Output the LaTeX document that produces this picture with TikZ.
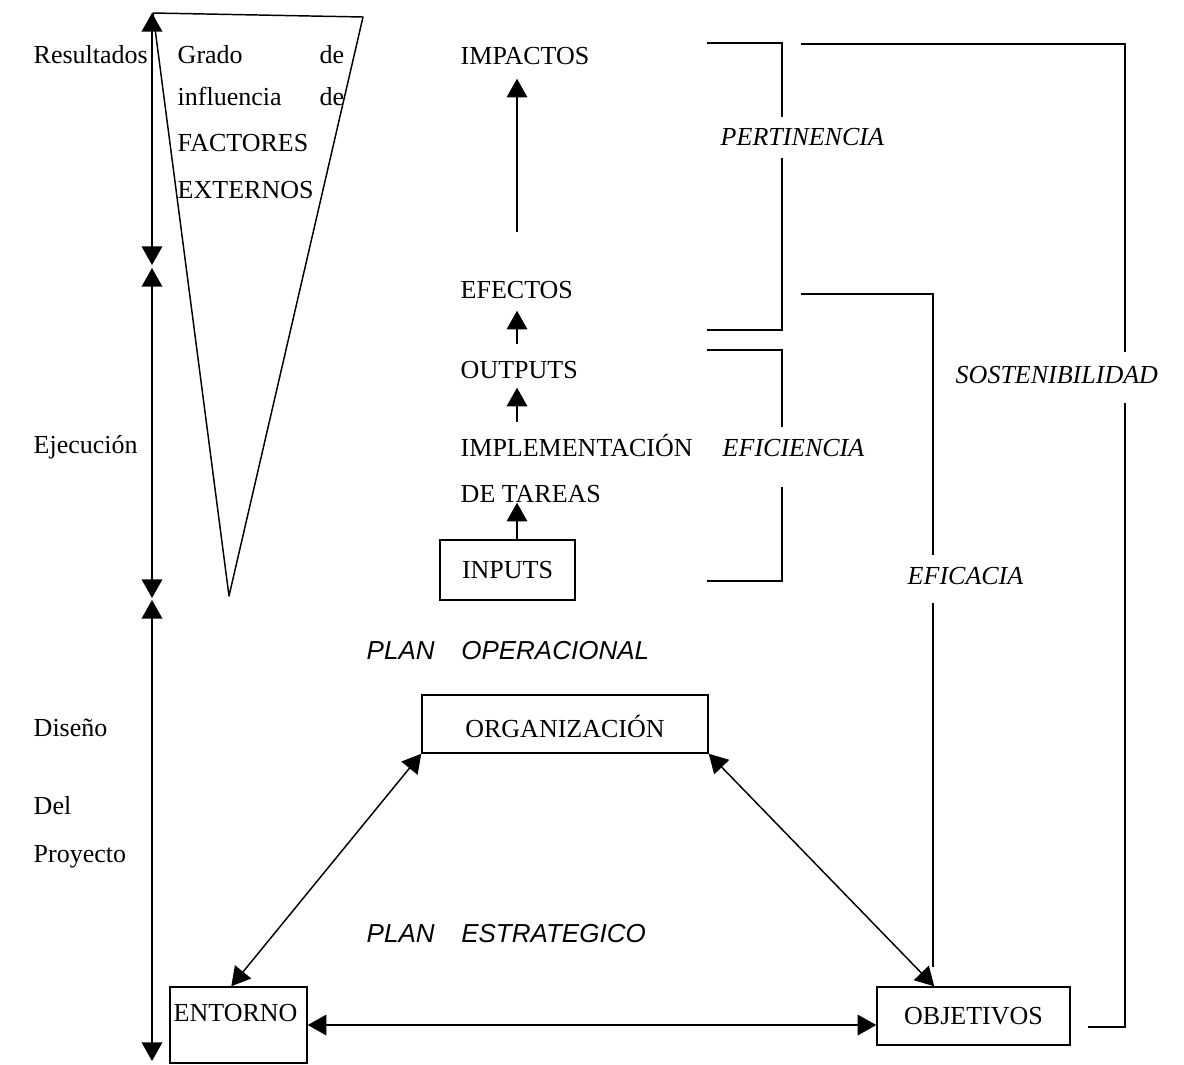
\documentclass[tikz,border=0pt]{standalone}
\usepackage{fontspec}
\setmainfont{Liberation Serif}
\newfontfamily\plansans{Liberation Sans}
\usetikzlibrary{arrows.meta,calc}

\begin{document}
\begin{tikzpicture}[x=0.75pt,y=-0.75pt,
  line width=1.1pt,
  tip/.style={-{Triangle[length=14pt,width=15.5pt]}},
  both/.style={{Triangle[length=14pt,width=15.5pt]}-{Triangle[length=14pt,width=15.5pt]}},
  lbl/.style={font=\fontsize{19.5}{23}\selectfont, inner sep=0pt, anchor=base west,
              text height=13pt, text depth=0pt},
  ilbl/.style={lbl, font=\fontsize{19.5}{23}\selectfont\itshape},
  plan/.style={lbl, font=\fontsize{19.5}{23}\selectfont\plansans\itshape},
  box/.style={draw, rectangle, inner sep=0pt, font=\fontsize{19.5}{23}\selectfont}
]
\useasboundingbox (0,0) rectangle (1184,1064);

% phase labels on the left
\node[lbl] (resultados) at (33,63) {Resultados};
\node[lbl] (ejecucion) at (33,453) {Ejecución};
\node[lbl] (diseno) at (33,736) {Diseño};
\node[lbl] (del) at (33,814) {Del};
\node[lbl] (proyecto) at (33,862) {Proyecto};

% time axis split into three phases
\coordinate (a1) at (152,13);
\coordinate (a2) at (152,265);
\coordinate (a3) at (152,268);
\coordinate (a4) at (152,598);
\coordinate (a5) at (152,600);
\coordinate (a6) at (152,1061);
\draw[both] (a1) -- (a2);
\draw[both] (a3) -- (a4);
\draw[both] (a5) -- (a6);

% funnel of external factors
\draw[line join=round] (153,13) -- (363,17) -- (229,596) -- cycle;
\node[lbl] (grado) at (177,63) {Grado};
\node[lbl, anchor=base east] (de1) at (345,63) {de};
\node[lbl] (influencia) at (177,105) {influencia};
\node[lbl, anchor=base east] (de2) at (345,105) {de};
\node[lbl] (factores) at (177,151) {FACTORES};
\node[lbl] (externos) at (177,198) {EXTERNOS};

% results chain
\node[lbl] (impactos) at (460,64) {IMPACTOS};
\node[lbl] (efectos) at (460,298) {EFECTOS};
\node[lbl] (outputs) at (460,378) {OUTPUTS};
\node[lbl] (implementacion) at (460,456) {IMPLEMENTACIÓN};
\node[lbl] (detareas) at (460,502) {DE TAREAS};
\node[box, minimum width=101.25pt, minimum height=45pt, text height=12.75pt, text depth=0pt]
  (inputs) at (507.5,570) {INPUTS};

\coordinate (colx) at (517,0);
\coordinate (impbase) at (517,232);
\draw[tip, shorten >=10.5pt] (impbase) -- (impactos.south -| colx);
\draw[tip, shorten <=11.8pt, shorten >=9pt] (outputs.north -| colx) -- (efectos.south -| colx);
\draw[tip, shorten <=11.8pt, shorten >=6.75pt] (implementacion.north -| colx) -- (outputs.south -| colx);
\draw[tip] (inputs.north -| colx) -- (detareas.south -| colx);

% evaluation criteria
\node[ilbl] (pertinencia) at (720,145) {PERTINENCIA};
\node[ilbl] (eficiencia) at (722,456) {EFICIENCIA};
\node[ilbl] (eficacia) at (907,584) {EFICACIA};
\node[ilbl] (sostenibilidad) at (955,383) {SOSTENIBILIDAD};

\draw (707,43) -| (782,117);
\draw (782,158) |- (707,330);
\draw (707,350) -| (782,427);
\draw (782,487) |- (707,581);
\draw (801,294) -| (933,555);
\draw (933,603) -- (933,967);
\draw (801,44) -| (1125,352);
\draw (1125,403) |- (1088,1027);

% planning triangle
\node[plan] (planop) at (366,659) {PLAN\hspace{20pt}OPERACIONAL};
\node[plan] (planes) at (366,942) {PLAN\hspace{20pt}ESTRATEGICO};

\node[box, minimum width=214.5pt, minimum height=43.5pt, text height=20.25pt, text depth=0pt]
  (orga) at (565,724) {ORGANIZACIÓN};
\node[box, minimum width=144.75pt, minimum height=43.5pt, text height=12.75pt, text depth=0pt]
  (objetivos) at (973.5,1016) {OBJETIVOS};
\node[box, minimum width=102.75pt, minimum height=57pt] (entorno) at (238.5,1025) {};
\node[lbl] (entornotxt) at (173,1021) {ENTORNO};

\draw[both] (orga.south west) -- ($(entorno.north west)+(62,0)$);
\draw[both] (orga.south east) -- ($(objetivos.north west)+(58,0)$);
\draw[both] (entorno.east) -- (entorno.east -| objetivos.west);
\end{tikzpicture}
\end{document}
